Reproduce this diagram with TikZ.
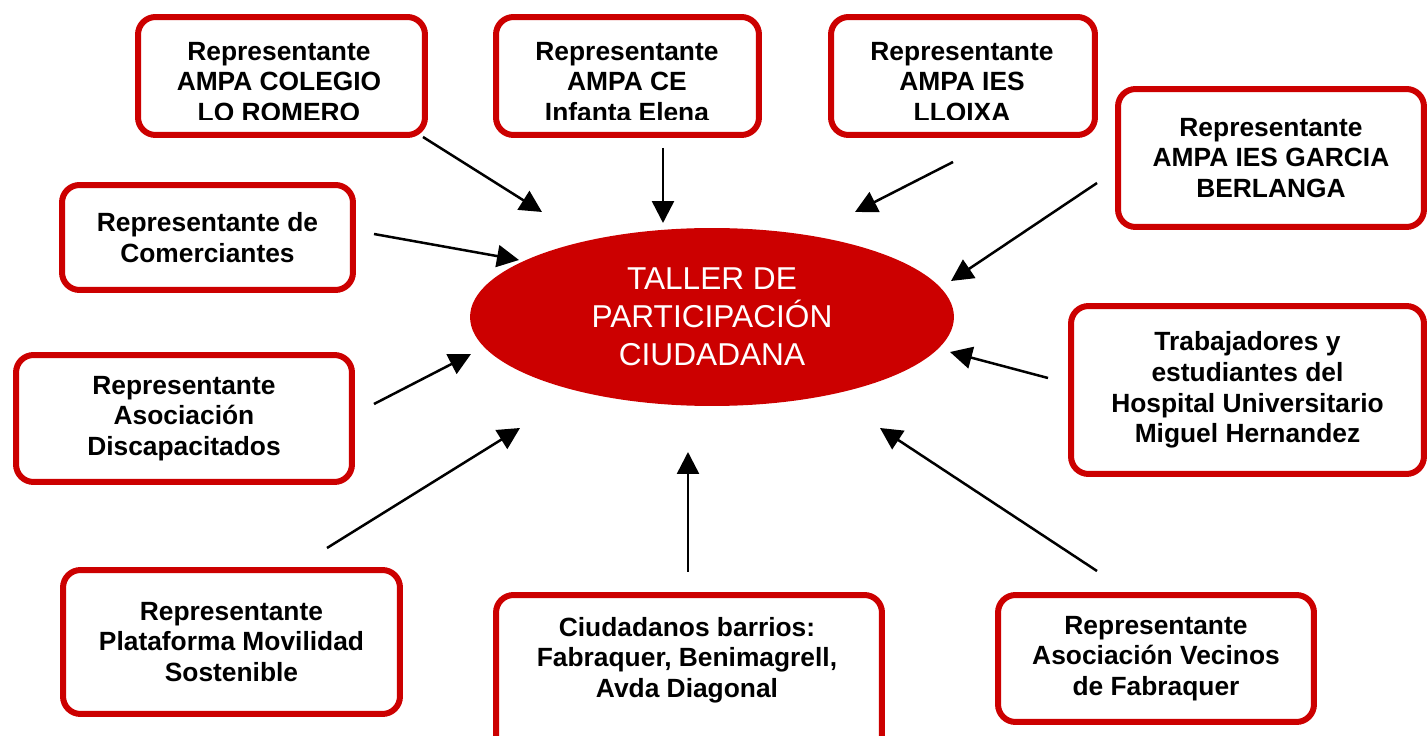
\documentclass[tikz,border=0pt]{standalone}
\usepackage{fontspec}
\setmainfont{Liberation Sans}
\usepackage{tikz}
\usetikzlibrary{shapes.geometric, arrows.meta}
\definecolor{boxred}{RGB}{204, 0, 0}

\begin{document}
\begin{tikzpicture}[x=0.02cm, y=-0.02cm,
    box/.style={draw=boxred, line width=0.12cm, rounded corners=0.35cm, fill=white, inner sep=0pt,
      align=center, font=\bfseries\fontsize{15}{17.5}\selectfont},
    boxtext/.style={inner sep=0pt, align=center, font=\bfseries\fontsize{15}{17.5}\selectfont},
    arr/.style={-{Triangle[length=0.44cm, width=0.44cm]}, line width=0.05cm}]
  \useasboundingbox (0, 0) rectangle (1428, 736);

  % Centre
  \node [ellipse, fill=boxred, text=white, minimum width=9.68cm, minimum height=3.56cm, inner sep=0pt,
    align=center, font=\fontsize{18}{21.6}\selectfont] (taller) at (712, 317)
    {TALLER DE\\PARTICIPACIÓN\\CIUDADANA};

  % Top row, third line cut off
  \node [box, minimum width=5.74cm, minimum height=2.36cm] (romero) at (281.5, 76) {};
  \node [box, minimum width=5.26cm, minimum height=2.36cm] (elena) at (627.5, 76) {};
  \node [box, minimum width=5.28cm, minimum height=2.36cm] (lloixa) at (963, 76) {};
  \begin{scope}
    \clip (0, 0) rectangle (1428, 120);
    \node [boxtext] (romero-t) at (279, 82) {Representante\\AMPA COLEGIO\\LO ROMERO};
    \node [boxtext] (elena-t) at (627, 82) {Representante\\AMPA CE\\Infanta Elena};
    \node [boxtext] (lloixa-t) at (962, 82) {Representante\\AMPA IES\\LLOIXA};
  \end{scope}

  % Sides
  \node [box, minimum width=6.12cm, minimum height=2.76cm] (garcia) at (1271, 158)
    {Representante\\AMPA IES GARCIA\\BERLANGA};
  \node [box, minimum width=5.82cm, minimum height=2.10cm] (comerciantes) at (207.5, 237.5)
    {Representante de\\Comerciantes};
  \node [box, minimum width=6.72cm, minimum height=2.54cm] (discapacitados) at (184, 418.5)
    {Representante\\Asociación\\Discapacitados};
  \node [box, minimum width=7.06cm, minimum height=3.36cm] (hospital) at (1247.5, 390)
    {Trabajadores y\\estudiantes del\\Hospital Universitario\\Miguel Hernandez};

  % Bottom row
  \node [box, minimum width=6.74cm, minimum height=2.88cm] (plataforma) at (231.5, 642)
    {Representante\\Plataforma Movilidad\\Sostenible};
  \node [box, minimum width=7.72cm, minimum height=3.24cm] (ciudadanos) at (689, 676) {};
  \node [boxtext] (ciudadanos-t) at (687, 660)
    {Ciudadanos barrios:\\Fabraquer, Benimagrell,\\Avda Diagonal};
  \node [box, minimum width=6.32cm, minimum height=2.54cm] (vecinos) at (1156, 658.5)
    {Representante\\Asociación Vecinos\\de Fabraquer};

  % Arrows
  \coordinate (s1) at (423, 137);  \coordinate (e1) at (542, 212);
  \coordinate (s2) at (663, 148);  \coordinate (e2) at (663, 223);
  \coordinate (s3) at (953, 162);  \coordinate (e3) at (855, 212);
  \coordinate (s4) at (1097, 183); \coordinate (e4) at (951, 281);
  \coordinate (s5) at (374, 234);  \coordinate (e5) at (519, 260);
  \coordinate (s6) at (374, 404);  \coordinate (e6) at (471, 354);
  \coordinate (s7) at (327, 548);  \coordinate (e7) at (520, 428);
  \coordinate (s8) at (688, 572);  \coordinate (e8) at (688, 452);
  \coordinate (s9) at (1097, 571); \coordinate (e9) at (880, 428);
  \coordinate (s10) at (1048, 378); \coordinate (e10) at (950, 352);
  \foreach \i in {1, ..., 10} {
    \draw [arr] (s\i) -- (e\i);
  }
\end{tikzpicture}
\end{document}
